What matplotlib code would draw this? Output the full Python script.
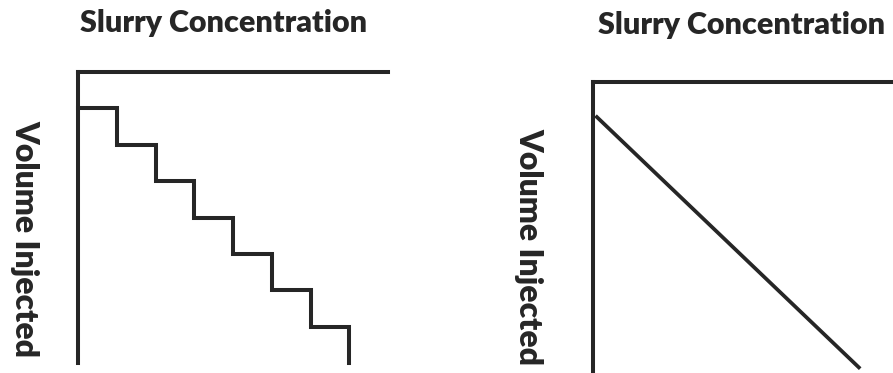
import matplotlib
matplotlib.use('Agg')
import matplotlib.pyplot as plt

# Left panel: stepwise slurry concentration vs. volume injected
step_conc = [0, 1, 2, 3, 4, 5, 6, 7]
step_vol = [1, 2, 3, 4, 5, 6, 7, 8]

# Right panel: continuous ramp
ramp_conc = [0.1, 6.86]
ramp_vol = [0.97, 7.9]

title_text = 'Slurry Concentration'
ylabel_text = 'Volume Injected'

ink = '#262626'
W, H = 893, 373

fig = plt.figure(figsize=(W / 100, H / 100), dpi=100)


def px_axes(x0, y0, x1, y1):
    # axes from pixel box (top-left origin)
    return fig.add_axes([x0 / W, 1 - y1 / H, (x1 - x0) / W, (y1 - y0) / H])


ax1 = px_axes(78, 72, 388, 363)
ax2 = px_axes(593, 82, 903, 371)

for ax in [ax1, ax2]:
    ax.set_xlim(0, 8)
    ax.set_ylim(8, 0)
    ax.set_xticks([])
    ax.set_yticks([])
    for side in ['right', 'bottom']:
        ax.spines[side].set_visible(False)
    for side in ['top', 'left']:
        ax.spines[side].set_linewidth(2.9)
        ax.spines[side].set_color(ink)
        ax.spines[side].set_capstyle('projecting')
    ax.patch.set_visible(False)

ax1.step(step_conc, step_vol, where='post', color=ink, lw=2.9,
         solid_joinstyle='miter', clip_on=False)
ax2.plot(ramp_conc, ramp_vol, color=ink, lw=2.7, clip_on=False)

font = dict(family=['Lato', 'DejaVu Sans'], fontweight='heavy', color=ink)
fig.text(224 / W, 1 - 23 / H, title_text, ha='center', va='center',
         fontsize=22, **font)
fig.text(742 / W, 1 - 25 / H, title_text, ha='center', va='center',
         fontsize=22, **font)
fig.text(25 / W, 1 - 238 / H, ylabel_text, ha='center', va='center',
         rotation=270, fontsize=23, **font)
fig.text(529 / W, 1 - 246 / H, ylabel_text, ha='center', va='center',
         rotation=270, fontsize=23, **font)

fig.savefig('out.png', dpi=100)
